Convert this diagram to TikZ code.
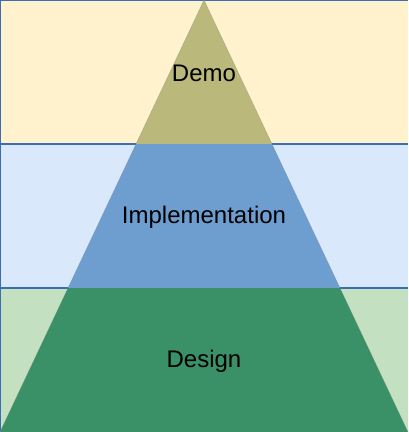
\documentclass[tikz,border=0pt]{standalone}
\usepackage{fontspec}
\setmainfont{Liberation Sans}
\definecolor{bandA}{HTML}{FFF2CC}
\definecolor{bandB}{HTML}{DAE8FC}
\definecolor{bandC}{HTML}{C3E1C1}
\definecolor{bandline}{HTML}{3B6DB3}
\definecolor{triA}{HTML}{BAB87B}
\definecolor{triB}{HTML}{6E9DD0}
\definecolor{triC}{HTML}{3A9067}
\begin{document}
\begin{tikzpicture}[x=1pt,y=-1pt,
  band/.style={draw=bandline,line width=1.3pt},
  tri/.style={draw=black!45,line width=0.4pt,draw opacity=0.5},
  lbl/.style={font=\fontsize{24}{28}\selectfont,text=black}]
\useasboundingbox (0,0) rectangle (408,432);
\fill[bandA] (0,0) rectangle (408,144);
\fill[bandB] (0,144) rectangle (408,288);
\fill[bandC] (0,288) rectangle (408,432);
\draw[band] (0,0.6) -- (408,0.6);
\draw[band] (0,144) -- (408,144);
\draw[band] (0,288) -- (408,288);
\draw[band] (0.6,0) -- (0.6,432);
\fill[triA] (204,0) -- (272,144) -- (136,144) -- cycle;
\fill[triB] (136,144) -- (272,144) -- (340,288) -- (68,288) -- cycle;
\fill[triC] (68,288) -- (340,288) -- (408,432) -- (0,432) -- cycle;
\draw[tri] (204,0) -- (408,432) -- (0,432) -- cycle;
\node[lbl] (demo) at (204,73) {Demo};
\node[lbl] (impl) at (204,217) {Implementation};
\node[lbl] (design) at (204,361) {Design};
\end{tikzpicture}
\end{document}
